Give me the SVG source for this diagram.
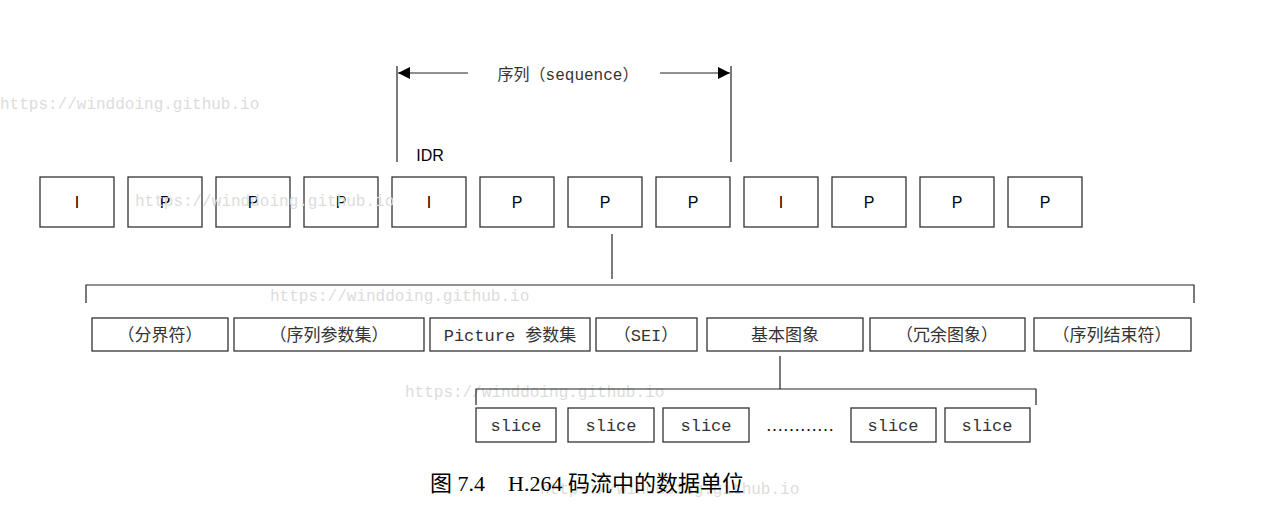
<svg xmlns="http://www.w3.org/2000/svg" width="1282" height="506" viewBox="0 0 1282 506">
<style>
.bx{fill:#fff;stroke:#333;stroke-width:1.3}
.ln{stroke:#222;stroke-width:1.2;fill:none}
.f{font-family:"Liberation Sans",Arial,sans-serif;font-size:16px;fill:#000;text-anchor:middle}
.c{font-family:"Liberation Mono","Noto Sans CJK SC",monospace;font-size:17px;fill:#333;text-anchor:middle}
.wm{font-family:"Liberation Mono",monospace;font-size:16px;fill:#dcdcdc}
.cap{font-family:"Liberation Serif","Noto Sans CJK SC",serif;font-size:22px;fill:#000}
</style>
<defs>
<marker id="ah" viewBox="0 0 10 10" refX="10" refY="5" markerWidth="12" markerHeight="12" markerUnits="userSpaceOnUse" orient="auto"><path d="M0,0 L10,5 L0,10 z" fill="#000"/></marker>
</defs>
<rect width="1282" height="506" fill="#fff"/>
<g id="watermarks">
<text class="wm" x="0" y="109">https://winddoing.github.io</text>
<text class="wm" x="270" y="301">https://winddoing.github.io</text>
<text class="wm" x="405" y="397">https://winddoing.github.io</text>
<text class="wm" x="540" y="494">https://winddoing.github.io</text>
</g>
<g id="connectors">
<line class="ln" x1="397" y1="66" x2="397" y2="162"/>
<line class="ln" x1="731" y1="66" x2="731" y2="162"/>
<line class="ln" x1="468" y1="73" x2="398" y2="73" marker-end="url(#ah)"/>
<line class="ln" x1="660" y1="73" x2="730" y2="73" marker-end="url(#ah)"/>
<line class="ln" x1="612" y1="234" x2="612" y2="279"/>
<polyline class="ln" points="86,303 86,285 1194,285 1194,303"/>
<line class="ln" x1="780" y1="356" x2="780" y2="389"/>
<polyline class="ln" points="476,405 476,389 1036,389 1036,405"/>
</g>
<g id="seq-label"><text class="c" x="568" y="80" style="font-size:16px">序列（sequence）</text></g>
<g id="idr-label"><text class="f" x="430" y="161">IDR</text></g>
<g id="frame1"><rect class="bx" x="40" y="177" width="74" height="50"/><text class="f" x="77" y="208">I</text></g>
<g id="frame2"><rect class="bx" x="128" y="177" width="74" height="50"/><text class="f" x="165" y="208">P</text></g>
<g id="frame3"><rect class="bx" x="216" y="177" width="74" height="50"/><text class="f" x="253" y="208">P</text></g>
<g id="frame4"><rect class="bx" x="304" y="177" width="74" height="50"/><text class="f" x="341" y="208">P</text></g>
<g id="frame5"><rect class="bx" x="392" y="177" width="74" height="50"/><text class="f" x="429" y="208">I</text></g>
<g id="frame6"><rect class="bx" x="480" y="177" width="74" height="50"/><text class="f" x="517" y="208">P</text></g>
<g id="frame7"><rect class="bx" x="568" y="177" width="74" height="50"/><text class="f" x="605" y="208">P</text></g>
<g id="frame8"><rect class="bx" x="656" y="177" width="74" height="50"/><text class="f" x="693" y="208">P</text></g>
<g id="frame9"><rect class="bx" x="744" y="177" width="74" height="50"/><text class="f" x="781" y="208">I</text></g>
<g id="frame10"><rect class="bx" x="832" y="177" width="74" height="50"/><text class="f" x="869" y="208">P</text></g>
<g id="frame11"><rect class="bx" x="920" y="177" width="74" height="50"/><text class="f" x="957" y="208">P</text></g>
<g id="frame12"><rect class="bx" x="1008" y="177" width="74" height="50"/><text class="f" x="1045" y="208">P</text></g>
<text class="wm" x="135" y="206">https://winddoing.github.io</text>
<g id="nal1"><rect class="bx" x="92" y="318" width="136" height="33"/><text class="c" x="160" y="341">（分界符）</text></g>
<g id="nal2"><rect class="bx" x="234" y="318" width="190" height="33"/><text class="c" x="329" y="341">（序列参数集）</text></g>
<g id="nal3"><rect class="bx" x="430" y="318" width="160" height="33"/><text class="c" x="510" y="341">Picture 参数集</text></g>
<g id="nal4"><rect class="bx" x="596" y="318" width="101" height="33"/><text class="c" x="646" y="341">（SEI）</text></g>
<g id="nal5"><rect class="bx" x="707" y="318" width="156" height="33"/><text class="c" x="785" y="341">基本图象</text></g>
<g id="nal6"><rect class="bx" x="870" y="318" width="155" height="33"/><text class="c" x="947" y="341">（冗余图象）</text></g>
<g id="nal7"><rect class="bx" x="1034" y="318" width="157" height="33"/><text class="c" x="1112" y="341">（序列结束符）</text></g>
<g id="slice1"><rect class="bx" x="476" y="408" width="80" height="34"/><text class="c" x="516" y="431">slice</text></g>
<g id="slice2"><rect class="bx" x="568" y="408" width="86" height="34"/><text class="c" x="611" y="431">slice</text></g>
<g id="slice3"><rect class="bx" x="663" y="408" width="86" height="34"/><text class="c" x="706" y="431">slice</text></g>
<g id="dots"><text class="cap" x="800" y="431" text-anchor="middle" style="font-size:17px">…………</text></g>
<g id="slice4"><rect class="bx" x="851" y="408" width="85" height="34"/><text class="c" x="893" y="431">slice</text></g>
<g id="slice5"><rect class="bx" x="945" y="408" width="85" height="34"/><text class="c" x="987" y="431">slice</text></g>
<g id="caption"><text class="cap" x="430" y="491">图 7.4<tspan x="508">H.264 码流中的数据单位</tspan></text></g>
</svg>
